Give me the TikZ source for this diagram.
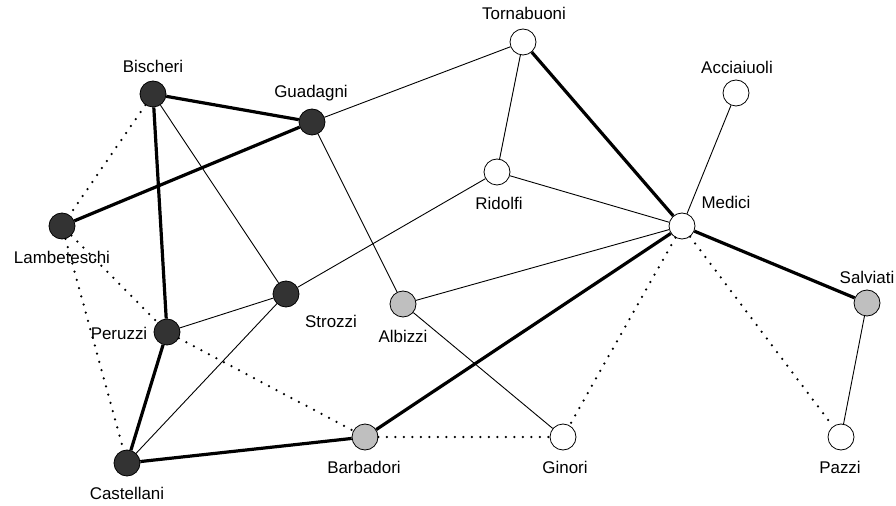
\documentclass[tikz,border=0pt]{standalone}
\usepackage{fontspec}
\setmainfont{Liberation Sans}
\begin{document}
\begin{tikzpicture}[x=1bp,y=-1bp,
  vert/.style={circle,draw=black,line width=0.8bp,minimum size=26bp,inner sep=0pt},
  dark/.style={vert,fill=black!80},
  grey/.style={vert,fill=black!25},
  white/.style={vert,fill=white},
  lbl/.style={font=\fontsize{17}{19}\selectfont,inner sep=0pt},
  thick edge/.style={line width=3.2bp},
  thin edge/.style={line width=0.9bp},
  dot edge/.style={line width=2.5bp,line cap=round,dash pattern=on 0bp off 8.5bp}]
\useasboundingbox (0,0) rectangle (896,506);
% vertices
\node[white] (torn) at (523,42) {};
\node[white] (acci) at (736,93) {};
\node[dark]  (bisc) at (153,94) {};
\node[dark]  (guad) at (312,122) {};
\node[white] (rido) at (497,172) {};
\node[white] (medi) at (682,226) {};
\node[dark]  (lamb) at (62,226) {};
\node[grey]  (salv) at (867,303) {};
\node[dark]  (stro) at (286,294) {};
\node[grey]  (albi) at (403,304) {};
\node[dark]  (peru) at (167,332) {};
\node[grey]  (barb) at (365,437) {};
\node[white] (gino) at (563,437) {};
\node[white] (pazz) at (841,437) {};
\node[dark]  (cast) at (127,463) {};
% labels
\node[lbl] (ltorn) at (524,13) {Tornabuoni};
\node[lbl] (lacci) at (737,67) {Acciaiuoli};
\node[lbl] (lbisc) at (153,66) {Bischeri};
\node[lbl] (lguad) at (311,93) {Guadagni};
\node[lbl] (lrido) at (499,203) {Ridolfi};
\node[lbl] (lmedi) at (726,202) {Medici};
\node[lbl] (llamb) at (62,257) {Lambeteschi};
\node[lbl] (lsalv) at (867,277) {Salviati};
\node[lbl] (lstro) at (331,321) {Strozzi};
\node[lbl] (lalbi) at (403,336) {Albizzi};
\node[lbl] (lperu) at (119,333) {Peruzzi};
\node[lbl] (lbarb) at (364,467) {Barbadori};
\node[lbl] (lgino) at (565,467) {Ginori};
\node[lbl] (lpazz) at (840,467) {Pazzi};
\node[lbl] (lcast) at (127,493) {Castellani};
% thin edges
\begin{scope}[thin edge]
\draw (torn) -- (guad);
\draw (torn) -- (rido);
\draw (rido) -- (medi);
\draw (rido) -- (stro);
\draw (acci) -- (medi);
\draw (medi) -- (albi);
\draw (guad) -- (albi);
\draw (albi) -- (gino);
\draw (bisc) -- (stro);
\draw (stro) -- (peru);
\draw (stro) -- (cast);
\draw (salv) -- (pazz);
\end{scope}
% dotted edges
\begin{scope}[dot edge]
\draw (bisc) -- (lamb);
\draw (lamb) -- (cast);
\draw (lamb) -- (peru);
\draw (peru) -- (barb);
\draw (barb) -- (gino);
\draw (medi) -- (gino);
\draw (medi) -- (pazz);
\end{scope}
% thick edges
\begin{scope}[thick edge]
\draw (bisc) -- (guad);
\draw (guad) -- (lamb);
\draw (bisc) -- (peru);
\draw (peru) -- (cast);
\draw (cast) -- (barb);
\draw (barb) -- (medi);
\draw (medi) -- (torn);
\draw (medi) -- (salv);
\end{scope}
\end{tikzpicture}
\end{document}
